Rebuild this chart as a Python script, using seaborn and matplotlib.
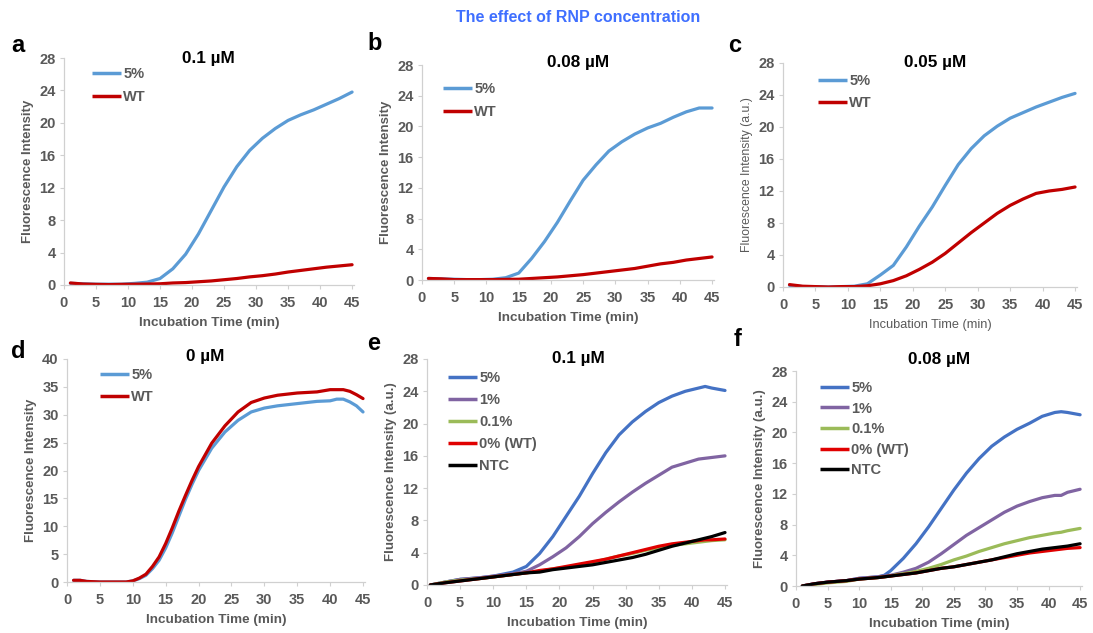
import numpy as np
import pandas as pd
import matplotlib
matplotlib.use("Agg")
import matplotlib.pyplot as plt
import seaborn as sns

sns.set_style("white")
plt.rcParams['font.family'] = ['Liberation Sans', 'DejaVu Sans']

# ---------------- data ----------------
t_abc = [1, 3, 5, 7, 9, 11, 13, 15, 17, 19, 21, 23, 25, 27, 29, 31, 33, 35, 37, 39, 41, 43, 45]
a_5 = [0.2, 0.15, 0.1, 0.1, 0.1, 0.2, 0.35, 0.8, 2.0, 3.8, 6.3, 9.2, 12.1, 14.6, 16.6, 18.1, 19.3, 20.3, 21.0, 21.6, 22.3, 23.0, 23.8]
a_wt = [0.25, 0.12, 0.08, 0.05, 0.08, 0.1, 0.12, 0.15, 0.25, 0.3, 0.4, 0.5, 0.65, 0.8, 1.0, 1.15, 1.35, 1.6, 1.8, 2.0, 2.2, 2.35, 2.5]
b_5 = [0.2, 0.15, 0.1, 0.05, 0.05, 0.1, 0.3, 0.9, 2.8, 5.0, 7.5, 10.3, 13.0, 15.0, 16.8, 18.0, 19.0, 19.8, 20.4, 21.2, 21.9, 22.4, 22.4]
b_wt = [0.2, 0.15, 0.05, 0.05, 0.05, 0.05, 0.08, 0.1, 0.2, 0.3, 0.4, 0.55, 0.7, 0.9, 1.1, 1.3, 1.5, 1.8, 2.1, 2.3, 2.6, 2.8, 3.0]
c_5 = [0.2, 0.05, 0.05, 0.0, 0.05, 0.1, 0.4, 1.5, 2.7, 5.0, 7.6, 10.0, 12.7, 15.3, 17.3, 18.9, 20.1, 21.1, 21.8, 22.5, 23.1, 23.7, 24.2]
c_wt = [0.3, 0.1, 0.05, 0.0, 0.05, 0.05, 0.15, 0.4, 0.8, 1.4, 2.2, 3.1, 4.2, 5.5, 6.8, 8.0, 9.2, 10.2, 11.0, 11.7, 12.0, 12.2, 12.5]

t_d = [1, 2, 3, 5, 7, 9, 10, 11, 12, 13, 14, 15, 16, 17, 18, 19, 20, 22, 24, 26, 28, 30, 32, 35, 38, 40, 41, 42, 43, 44, 45]
d_5 = [0.3, 0.3, 0.1, 0.0, 0.0, 0.0, 0.2, 0.6, 1.2, 2.4, 3.9, 6.1, 8.8, 11.8, 14.8, 17.5, 20.0, 24.0, 26.9, 29.0, 30.5, 31.2, 31.6, 32.0, 32.4, 32.5, 32.8, 32.8, 32.3, 31.6, 30.5]
d_wt = [0.3, 0.3, 0.1, 0.0, 0.0, 0.0, 0.2, 0.7, 1.4, 2.8, 4.5, 6.9, 9.7, 12.7, 15.5, 18.2, 20.7, 24.9, 28.0, 30.5, 32.2, 33.0, 33.5, 33.9, 34.1, 34.5, 34.5, 34.5, 34.2, 33.6, 32.9]

t_e = [0.5, 3, 5, 8, 10, 13, 15, 17, 19, 21, 23, 25, 27, 29, 31, 33, 35, 37, 39, 41, 42, 43, 45]
e_5 = [0, 0.4, 0.7, 0.9, 1.1, 1.6, 2.3, 3.9, 6.0, 8.5, 11.0, 13.8, 16.4, 18.6, 20.2, 21.5, 22.6, 23.4, 24.0, 24.4, 24.6, 24.4, 24.1]
e_1 = [0, 0.4, 0.7, 0.9, 1.1, 1.4, 1.7, 2.5, 3.5, 4.6, 6.0, 7.6, 9.0, 10.3, 11.5, 12.6, 13.6, 14.6, 15.1, 15.6, 15.7, 15.8, 16.0]
e_01 = [0, 0.4, 0.6, 0.8, 1.0, 1.3, 1.5, 1.7, 2.0, 2.2, 2.5, 2.8, 3.2, 3.6, 3.9, 4.3, 4.6, 4.9, 5.1, 5.3, 5.4, 5.5, 5.6]
e_wt = [0, 0.3, 0.5, 0.8, 1.0, 1.3, 1.5, 1.8, 2.0, 2.3, 2.6, 2.9, 3.2, 3.6, 4.0, 4.4, 4.8, 5.1, 5.3, 5.5, 5.6, 5.6, 5.7]
e_ntc = [0, 0.3, 0.5, 0.8, 1.0, 1.3, 1.5, 1.6, 1.9, 2.1, 2.3, 2.5, 2.8, 3.1, 3.4, 3.8, 4.3, 4.8, 5.2, 5.6, 5.8, 6.0, 6.5]

t_f = [1, 3, 5, 8, 10, 13, 14, 15, 16, 17, 19, 21, 23, 25, 27, 29, 31, 33, 35, 37, 39, 41, 42, 43, 45]
f_5 = [0, 0.3, 0.5, 0.7, 1.0, 1.2, 1.4, 2.0, 2.8, 3.6, 5.5, 7.7, 10.1, 12.5, 14.7, 16.6, 18.2, 19.4, 20.4, 21.2, 22.1, 22.6, 22.7, 22.6, 22.3]
f_1 = [0, 0.3, 0.5, 0.7, 1.0, 1.2, 1.3, 1.4, 1.6, 1.8, 2.3, 3.1, 4.2, 5.4, 6.6, 7.6, 8.6, 9.6, 10.4, 11.0, 11.5, 11.8, 11.8, 12.2, 12.6]
f_01 = [0, 0.2, 0.4, 0.6, 0.9, 1.1, 1.2, 1.3, 1.5, 1.6, 1.9, 2.3, 2.8, 3.4, 3.9, 4.5, 5.0, 5.5, 5.9, 6.3, 6.6, 6.9, 7.0, 7.2, 7.5]
f_wt = [0, 0.3, 0.5, 0.7, 0.9, 1.1, 1.2, 1.3, 1.4, 1.5, 1.7, 2.0, 2.3, 2.5, 2.8, 3.1, 3.4, 3.7, 4.0, 4.3, 4.5, 4.7, 4.8, 4.9, 5.0]
f_ntc = [0, 0.3, 0.5, 0.7, 0.9, 1.1, 1.2, 1.3, 1.4, 1.5, 1.7, 2.0, 2.3, 2.5, 2.8, 3.1, 3.4, 3.8, 4.2, 4.5, 4.8, 5.0, 5.1, 5.2, 5.5]

labels_two = ["5%", "WT"]
labels_five = ["5%", "1%", "0.1%", "0% (WT)", "NTC"]
x_ticks = list(range(0, 46, 5))
y_ticks_28 = list(range(0, 29, 4))
y_ticks_40 = list(range(0, 41, 5))

# ---------------- style ----------------
GREY = "#595959"
SPINE = "#D0D0D0"
col_two = ["#5B9BD5", "#C00000"]
col_five = ["#4472C4", "#8064A2", "#9BBB59", "#E00000", "#000000"]

W, H = 1093, 633
fig = plt.figure(figsize=(W / 100, H / 100), dpi=100)


def px_axes(l, r, t, b):
    return fig.add_axes([l / W, 1 - b / H, (r - l) / W, (b - t) / H])


def style(ax, yticks, ylab, ylab_bold=True, xlab_bold=True):
    ax.set_xlim(0, 45.3)
    ax.set_ylim(yticks[0], yticks[-1])
    ax.set_xticks(x_ticks)
    ax.set_yticks(yticks)
    for s in ["top", "right"]:
        ax.spines[s].set_visible(False)
    for s in ["left", "bottom"]:
        ax.spines[s].set_color(SPINE)
        ax.spines[s].set_linewidth(0.9)
    ax.tick_params(axis="both", direction="out", length=3, width=0.8, color=SPINE,
                   labelsize=10.5, labelcolor=GREY, pad=3, left=True, bottom=True)
    ax.tick_params(axis="x", pad=5)
    for lab in ax.get_xticklabels() + ax.get_yticklabels():
        lab.set_fontweight("bold")
    if xlab_bold:
        ax.set_xlabel("Incubation Time (min)", fontsize=9.7, fontweight="bold",
                      color=GREY, labelpad=5)
    else:
        ax.set_xlabel("Incubation Time (min)", fontsize=9.2, fontweight="normal",
                      color=GREY, labelpad=5)
    if ylab_bold:
        ax.set_ylabel(ylab, fontsize=9.5, fontweight="bold", color=GREY, labelpad=4)
    else:
        ax.set_ylabel(ylab, fontsize=8.8, fontweight="normal", color=GREY, labelpad=4)


def draw(ax, t, series, labels, colors):
    for y, lab, c in zip(series, labels, colors):
        df = pd.DataFrame({"t": t, "v": y})
        sns.lineplot(data=df, x="t", y="v", ax=ax, color=c, lw=2.3, label=lab)


def legend(ax, x, ytop, spacing):
    leg = ax.legend(loc="upper left", bbox_to_anchor=(x / W, 1 - ytop / H),
                    bbox_transform=fig.transFigure, frameon=False, borderpad=0,
                    borderaxespad=0, handlelength=2.0, handletextpad=0.15,
                    labelspacing=spacing, prop={"weight": "bold", "size": 10.5})
    for txt in leg.get_texts():
        txt.set_color(GREY)
    for ln in leg.get_lines():
        ln.set_linewidth(2.5)
        ln.set_solid_capstyle("butt")


def title(ax, x, y, s):
    fig.text(x / W, 1 - y / H, s, ha="center", va="center", fontsize=12.3,
             fontweight="bold", color="black")


# panel a
ax = px_axes(64, 354, 58, 285)
draw(ax, t_abc, [a_5, a_wt], labels_two, col_two)
style(ax, y_ticks_28, "Fluorescence Intensity")
legend(ax, 92, 67, 0.65)
title(ax, 208, 58, "0.1 µM")

# panel b
ax = px_axes(422, 714, 65, 280)
draw(ax, t_abc, [b_5, b_wt], labels_two, col_two)
style(ax, y_ticks_28, "Fluorescence Intensity")
legend(ax, 443, 82, 0.6)
title(ax, 578, 62, "0.08 µM")

# panel c
ax = px_axes(783, 1077, 63, 287)
draw(ax, t_abc, [c_5, c_wt], labels_two, col_two)
style(ax, y_ticks_28, "Fluorescence Intensity (a.u.)", ylab_bold=False, xlab_bold=False)
legend(ax, 818, 74, 0.55)
title(ax, 935, 62, "0.05 µM")

# panel d
ax = px_axes(67, 365, 359, 582)
draw(ax, t_d, [d_5, d_wt], labels_two, col_two)
style(ax, y_ticks_40, "Fluorescence Intensity")
legend(ax, 100, 368, 0.55)
title(ax, 205, 356, "0 µM")

# panel e
ax = px_axes(427, 727, 359, 585)
draw(ax, t_e, [e_5, e_1, e_01, e_wt, e_ntc], labels_five, col_five)
style(ax, y_ticks_28, "Fluorescence Intensity (a.u.)")
legend(ax, 448, 371, 0.55)
title(ax, 578, 358, "0.1 µM")

# panel f
ax = px_axes(796, 1082, 371, 586)
draw(ax, t_f, [f_5, f_1, f_01, f_wt, f_ntc], labels_five, col_five)
style(ax, y_ticks_28, "Fluorescence Intensity (a.u.)")
legend(ax, 820, 381, 0.45)
title(ax, 939, 359, "0.08 µM")

# panel letters
for lt, x, y in [("a", 18, 45), ("b", 375, 43), ("c", 735, 45),
                 ("d", 18, 352), ("e", 374, 343), ("f", 738, 340)]:
    fig.text(x / W, 1 - y / H, lt, ha="center", va="center", fontsize=17,
             fontweight="bold", color="black")

fig.text(578 / W, 1 - 17 / H, "The effect of RNP concentration", ha="center", va="center",
         fontsize=11.5, fontweight="bold", color="#3F6FFF")

fig.savefig("out.png", dpi=100, facecolor="white")
